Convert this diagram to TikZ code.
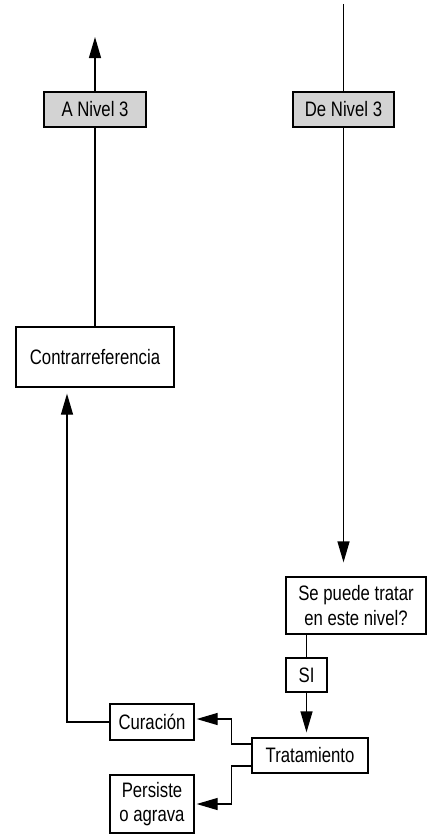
\documentclass[tikz,border=0pt]{standalone}
\usepackage{fontspec}
\setmainfont{Liberation Sans}[FakeStretch=0.8]
\usetikzlibrary{arrows.meta, positioning}
\definecolor{boxgray}{RGB}{211,211,211}

\begin{document}
\begin{tikzpicture}[
            x = 1bp, y = 1bp, % one unit per pixel of the reference
            > = {Triangle[length=21bp, width=12bp]}, % arrow head style
            line width = 1.3bp, % line style
            font = \fontsize{21}{24.5}\selectfont
        ]

        \tikzstyle{box}=[
            draw = black,
            fill = white,
            align = center,
            inner sep = 0pt
        ]
        \tikzstyle{grey box}=[box, fill = boxgray]

	\useasboundingbox (0,0) rectangle (427,-834);

	\node[grey box, minimum width=102bp, minimum height=35bp] (anivel) at (95,-109.5) {A Nivel 3};
	\node[grey box, minimum width=101bp, minimum height=35bp] (denivel) [right of=anivel, node distance=248.5bp] {De Nivel 3};
	\node[box, minimum width=158bp, minimum height=60bp] (contra) [below of=anivel, node distance=247.5bp] {Contrarreferencia};
	\node[box, minimum width=140bp, minimum height=57bp] (sepuede) [below of=denivel, node distance=496bp, xshift=12.5bp] {Se puede tratar\\en este nivel?};
	\node[box, minimum width=41bp, minimum height=34bp] (si) [below of=sepuede, node distance=69.5bp, xshift=-49.5bp] {SI};
	\node[box, minimum width=116bp, minimum height=35bp] (trat) [below of=si, node distance=80.5bp, xshift=3.5bp] {Tratamiento};
	\node[box, minimum width=84bp, minimum height=36bp] (cura) [left of=trat, node distance=158bp, yshift=33.5bp] {Curación};
	\node[box, minimum width=84bp, minimum height=58bp] (pers) [below of=cura, node distance=82bp] {Persiste\\o agrava};

	\coordinate[above of=anivel, node distance=72.5bp] (up);
	\coordinate[above of=denivel, node distance=105.5bp] (down);

	\draw[->] (anivel) -- (up);
	\draw (contra) -- (anivel);
	\draw (down) -- (denivel);
	\draw[->, shorten >=14bp] (denivel) -- (denivel |- sepuede.north);
	\draw (sepuede.south -| si) -- (si);
	\draw[->, shorten >=5bp] (si) -- (si |- trat.north);
	\draw[->, shorten >=2bp] ([yshift=11.5bp]trat.west) -- ++(-20,0) |- ([yshift=3bp]cura.east);
	\draw[->, shorten >=2bp] ([yshift=-10.5bp]trat.west) -- ++(-20,0) |- (pers.east);
	\draw[->, shorten >=6bp] (cura) -| ([xshift=-28bp]contra.south);

\end{tikzpicture}
\end{document}
